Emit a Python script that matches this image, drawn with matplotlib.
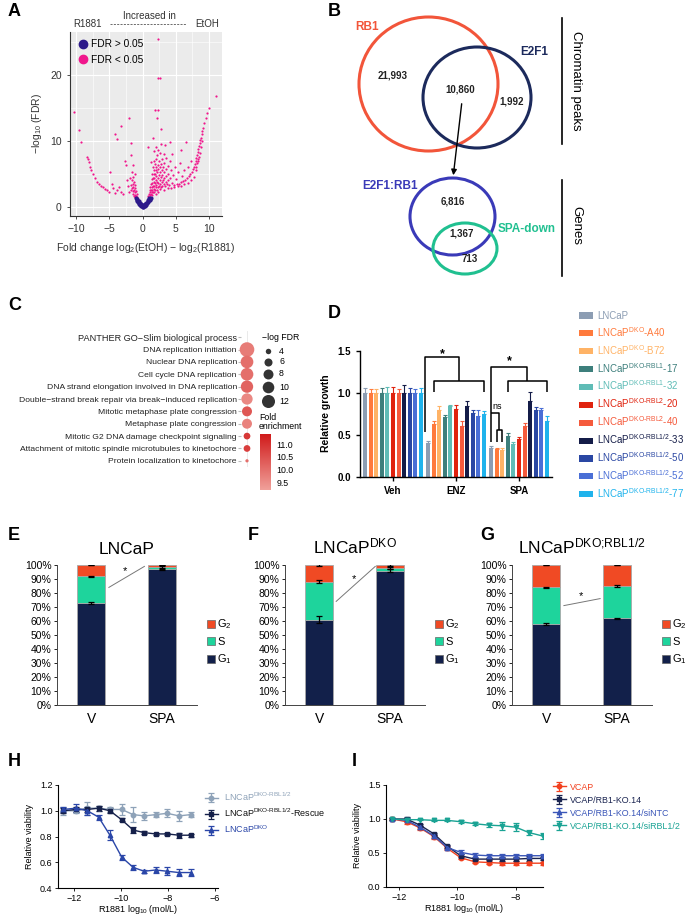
import numpy as np
import matplotlib
matplotlib.use('Agg')
import matplotlib.pyplot as plt
from matplotlib.patches import Ellipse, Patch
from matplotlib.lines import Line2D
from matplotlib.colors import LinearSegmentedColormap

plt.rcParams['font.family'] = ['Liberation Sans', 'DejaVu Sans']
plt.rcParams['mathtext.fontset'] = 'custom'
plt.rcParams['mathtext.rm'] = 'Liberation Sans'
plt.rcParams['mathtext.it'] = 'Liberation Sans:italic'
plt.rcParams['mathtext.bf'] = 'Liberation Sans:bold'

# ---------------- data ----------------
# A: volcano, (log2 fold change, -log10 FDR)
volcano_ns = [(-1.0, 1.3), (-0.9, 1.1), (-0.8, 0.9), (-0.7, 0.7), (-0.6, 0.55), (-0.5, 0.4),
              (-0.4, 0.3), (-0.3, 0.2), (-0.2, 0.1), (-0.1, 0.05), (0.0, 0.0), (0.1, 0.02),
              (0.2, 0.05), (0.3, 0.1), (0.4, 0.2), (0.5, 0.3), (0.6, 0.4), (0.7, 0.55),
              (0.8, 0.7), (0.9, 0.85), (1.0, 1.0), (1.1, 1.1), (1.2, 1.2), (1.3, 1.3),
              (-0.8, 1.2), (-0.5, 0.8), (-0.2, 0.4), (0.2, 0.3), (0.5, 0.6), (0.8, 1.0),
              (1.0, 1.3), (0.0, 0.2), (-0.4, 0.6), (0.4, 0.45)]
volcano_sig_left = [(-10.3, 14.3), (-9.5, 11.6), (-9.2, 9.8), (-8.3, 7.6), (-8.2, 7.2), (-8.1, 6.8),
                    (-7.9, 6.0), (-7.7, 5.5), (-7.5, 5.0), (-7.2, 4.4), (-6.9, 3.8), (-6.6, 3.5),
                    (-6.3, 3.2), (-6.0, 3.0), (-5.7, 2.7), (-5.4, 2.5), (-5.1, 2.3), (-4.9, 5.2),
                    (-4.6, 3.4), (-4.5, 2.8), (-4.2, 2.1), (-4.1, 11.0), (-3.9, 10.3), (-3.3, 12.3),
                    (-3.8, 2.5), (-3.5, 3.0), (-3.2, 2.2), (-2.9, 1.9), (-2.7, 7.0), (-2.5, 6.3),
                    (-2.4, 4.0), (-2.2, 3.2), (-2.0, 13.5), (-1.8, 9.6), (-1.7, 7.8), (-1.6, 5.2),
                    (-1.6, 4.0), (-1.5, 3.5), (-1.4, 3.0), (-1.3, 2.6), (-1.2, 2.2), (-1.1, 1.8),
                    (-1.5, 2.4), (-1.4, 2.0), (-1.3, 1.7), (-1.2, 1.5), (-1.6, 2.9), (-1.5, 4.5),
                    (-1.3, 3.8), (-1.2, 3.3), (-1.1, 2.8), (-1.0, 2.4), (-1.0, 1.6), (-0.9, 2.0),
                    (-0.8, 1.5), (-1.7, 3.3), (-1.8, 2.6), (-2.0, 2.3), (-1.9, 4.3), (-1.4, 6.3),
                    (-1.2, 5.0)]
volcano_sig_core = [(0.8, 1.2), (0.9, 1.6), (1.0, 2.0), (1.0, 1.4), (1.1, 2.5), (1.1, 1.8), (1.2, 3.0),
                    (1.2, 2.2), (1.2, 1.5), (1.3, 3.5), (1.3, 2.6), (1.3, 1.9), (1.4, 4.2), (1.4, 3.0),
                    (1.4, 2.2), (1.5, 5.0), (1.5, 3.6), (1.5, 2.6), (1.5, 1.8), (1.6, 6.0), (1.6, 4.3),
                    (1.6, 3.2), (1.6, 2.3), (1.7, 7.0), (1.7, 5.0), (1.7, 3.8), (1.7, 2.7), (1.8, 8.5),
                    (1.8, 5.6), (1.8, 4.4), (1.8, 3.1), (1.8, 2.2), (1.9, 6.5), (1.9, 5.0), (1.9, 3.6),
                    (1.9, 2.6), (2.0, 7.3), (2.0, 5.5), (2.0, 4.1), (2.0, 3.0), (2.0, 2.0), (2.1, 9.0),
                    (2.1, 6.0), (2.1, 4.6), (2.1, 3.3), (2.2, 7.8), (2.2, 5.2), (2.2, 3.8), (2.2, 2.6),
                    (2.3, 8.6), (2.3, 6.4), (2.3, 4.3), (2.3, 3.0), (2.4, 5.7), (2.4, 3.6), (2.4, 2.3),
                    (2.5, 7.0), (2.5, 4.8), (2.5, 3.2), (2.6, 6.0), (2.6, 4.0), (2.6, 2.7), (2.7, 8.2),
                    (2.7, 5.3), (2.7, 3.5), (2.8, 9.5), (2.8, 6.5), (2.8, 4.5), (2.8, 3.0), (2.9, 5.5),
                    (2.9, 3.8), (3.0, 7.2), (3.0, 4.8), (3.0, 3.2), (3.1, 6.0), (3.1, 4.1), (3.2, 8.0),
                    (3.2, 5.2), (3.2, 3.5), (3.3, 6.6), (3.3, 4.4), (3.4, 3.1), (3.5, 5.7), (3.5, 3.8),
                    (3.6, 7.4), (3.6, 4.6), (3.7, 3.4), (3.8, 6.2), (3.8, 4.0), (3.9, 5.0), (4.0, 3.3),
                    (4.1, 7.0), (4.2, 4.4), (4.3, 5.6), (4.4, 3.6), (4.5, 8.0), (4.6, 4.8), (4.8, 3.3),
                    (4.9, 6.0), (5.0, 4.2), (5.2, 3.4), (5.3, 5.2), (5.5, 3.5), (5.6, 6.6), (5.8, 3.7),
                    (5.9, 4.6), (6.1, 3.9), (6.3, 5.5), (6.4, 4.0), (6.7, 4.3), (6.9, 6.0), (7.0, 4.7),
                    (7.2, 5.0), (7.3, 7.0), (7.5, 5.3)]
volcano_sig_curve = [(3.3, 2.6), (3.8, 2.8), (4.3, 2.9), (4.8, 3.0), (5.3, 3.1), (5.8, 3.2), (6.3, 3.4),
                     (6.8, 3.6), (7.3, 4.0), (7.7, 4.5), (7.6, 5.7), (7.8, 6.0), (7.9, 6.5), (8.0, 7.0),
                     (8.0, 5.5), (8.1, 6.0), (8.1, 7.4), (8.2, 7.9), (8.2, 6.6), (8.3, 8.3), (8.3, 7.0),
                     (8.4, 8.7), (8.4, 7.2), (8.5, 9.2), (8.5, 7.5), (8.6, 9.6), (8.6, 8.2), (8.7, 10.1),
                     (8.8, 10.5), (8.8, 9.0), (8.9, 11.0), (9.0, 11.5), (9.0, 10.0), (9.1, 12.0),
                     (9.3, 12.7), (9.5, 13.5), (9.7, 14.2), (10.0, 15.0), (11.0, 16.8)]
volcano_sig_outliers = [(2.3, 25.5), (2.3, 19.5), (2.7, 19.5), (1.9, 14.7), (2.4, 14.7), (2.8, 11.8),
                        (2.2, 13.4), (1.6, 10.5), (3.4, 9.3), (4.2, 9.8), (5.8, 8.6), (0.9, 9.0),
                        (1.3, 6.8), (6.6, 9.8)]

# B: Venn counts
peak_counts = ['21,993', '10,860', '1,992']
gene_counts = ['6,816', '1,367', '713']

# C: GO dot plot
go_terms = ['DNA replication initiation', 'Nuclear DNA replication', 'Cell cycle DNA replication',
            'DNA strand elongation involved in DNA replication',
            'Double\u2212strand break repair via break\u2212induced replication',
            'Mitotic metaphase plate congression', 'Metaphase plate congression',
            'Mitotic G2 DNA damage checkpoint signaling',
            'Attachment of mitotic spindle microtubules to kinetochore',
            'Protein localization to kinetochore']
go_logfdr = [14.5, 11.5, 11.5, 11.0, 9.6, 8.0, 8.0, 4.9, 4.9, 2.9]
go_fold = [9.8, 10.0, 10.0, 10.2, 9.6, 10.4, 9.7, 10.9, 10.8, 10.0]
size_legend = [4, 6, 8, 10, 12]

# D: relative growth
d_groups = ['Veh', 'ENZ', 'SPA']
d_lines = ['LNCaP', 'LNCaP$^{\\text{DKO}}$-A40', 'LNCaP$^{\\text{DKO}}$-B72',
           'LNCaP$^{\\text{DKO-RBL1}}$-17', 'LNCaP$^{\\text{DKO-RBL1}}$-32',
           'LNCaP$^{\\text{DKO-RBL2}}$-20', 'LNCaP$^{\\text{DKO-RBL2}}$-40',
           'LNCaP$^{\\text{DKO-RBL1/2}}$-33', 'LNCaP$^{\\text{DKO-RBL1/2}}$-50',
           'LNCaP$^{\\text{DKO-RBL1/2}}$-52', 'LNCaP$^{\\text{DKO-RBL1/2}}$-77']
d_colors = ['#8c9db3', '#ff7a3c', '#ffb366', '#3d7f7c', '#5fbcb6', '#e0230f', '#f55a3c',
            '#141c48', '#2a47a3', '#4a6fd6', '#1fb3ec']
d_veh = [1.0] * 11
d_veh_err = [0.06, 0.05, 0.04, 0.06, 0.07, 0.07, 0.05, 0.09, 0.06, 0.05, 0.06]
d_enz = [0.40, 0.63, 0.79, 0.71, 0.84, 0.81, 0.60, 0.84, 0.76, 0.73, 0.75]
d_enz_err = [0.03, 0.04, 0.05, 0.03, 0.01, 0.05, 0.07, 0.06, 0.04, 0.06, 0.03]
d_spa = [0.34, 0.33, 0.32, 0.49, 0.39, 0.45, 0.61, 0.90, 0.80, 0.80, 0.67]
d_spa_err = [0.03, 0.01, 0.02, 0.03, 0.03, 0.03, 0.03, 0.11, 0.03, 0.02, 0.06]

# E-G: cell cycle fractions (%)
cc_conditions = ['V', 'SPA']
e_g1, e_s, e_g2 = [73, 97], [19, 1.5], [8, 1.5]
f_g1, f_s, f_g2 = [61, 96], [27, 2], [12, 2]
g_g1, g_s, g_g2 = [58, 62], [26, 23], [16, 15]
e_err = [[0.6, 0.5, 0.3], [0.5, 0.5, 0.3]]
f_err = [[2.5, 1.0, 1.0], [1.0, 0.6, 0.5]]
g_err = [[0.8, 0.6, 0.3], [0.4, 0.6, 0.3]]

# H: viability vs R1881
h_x = [-12.46, -11.91, -11.43, -10.95, -10.47, -9.97, -9.48, -9.01, -8.52, -8.03, -7.53, -7.03]
h_rbl = [1.00, 1.00, 1.02, 1.02, 1.01, 1.01, 0.97, 0.96, 0.97, 0.98, 0.96, 0.97]
h_rbl_err = [0.03, 0.02, 0.05, 0.02, 0.02, 0.04, 0.06, 0.03, 0.02, 0.03, 0.04, 0.02]
h_rescue = [1.00, 1.01, 1.01, 1.02, 1.00, 0.93, 0.85, 0.83, 0.82, 0.82, 0.81, 0.81]
h_rescue_err = [0.02, 0.02, 0.02, 0.02, 0.02, 0.01, 0.02, 0.01, 0.01, 0.01, 0.02, 0.01]
h_dko = [1.01, 1.02, 1.00, 0.95, 0.81, 0.64, 0.56, 0.53, 0.54, 0.53, 0.52, 0.52]
h_dko_err = [0.02, 0.03, 0.03, 0.02, 0.04, 0.02, 0.02, 0.01, 0.02, 0.03, 0.03, 0.03]

# I: VCaP viability
i_x = [-12.22, -11.74, -11.28, -10.80, -10.35, -9.89, -9.40, -8.94, -8.48, -8.01, -7.56, -7.09]
i_vcap = [1.00, 0.96, 0.87, 0.74, 0.57, 0.43, 0.37, 0.36, 0.35, 0.35, 0.35, 0.35]
i_vcap_err = [0.01, 0.04, 0.03, 0.03, 0.03, 0.02, 0.02, 0.02, 0.02, 0.03, 0.02, 0.02]
i_ko = [1.00, 1.00, 0.91, 0.78, 0.60, 0.46, 0.41, 0.41, 0.41, 0.41, 0.42, 0.42]
i_ko_err = [0.02, 0.03, 0.02, 0.02, 0.02, 0.02, 0.02, 0.02, 0.03, 0.03, 0.04, 0.02]
i_ntc = [1.00, 0.98, 0.88, 0.75, 0.58, 0.51, 0.47, 0.46, 0.46, 0.46, 0.46, 0.46]
i_ntc_err = [0.01, 0.03, 0.02, 0.03, 0.02, 0.03, 0.03, 0.03, 0.03, 0.03, 0.03, 0.03]
i_si = [1.00, 0.99, 0.99, 0.98, 0.98, 0.96, 0.93, 0.91, 0.90, 0.88, 0.80, 0.75]
i_si_err = [0.01, 0.01, 0.01, 0.01, 0.01, 0.02, 0.02, 0.03, 0.06, 0.06, 0.04, 0.04]

# ---------------- layout helpers ----------------
W, H = 687, 917
fig = plt.figure(figsize=(W / 100, H / 100), dpi=100)


def px_axes(l, t, r, b):
    return fig.add_axes([l / W, 1 - b / H, (r - l) / W, (b - t) / H])


def px_text(x, y, s, **kw):
    kw.setdefault('ha', 'center')
    kw.setdefault('va', 'center')
    fig.text(x / W, 1 - y / H, s, **kw)


for letter, x, y in [('A', 8, 12), ('B', 328, 11), ('C', 8, 306), ('D', 328, 313),
                     ('E', 8, 535), ('F', 248, 535), ('G', 480, 535), ('H', 8, 762), ('I', 352, 762)]:
    px_text(x, y, letter, fontsize=13, fontweight='bold', ha='left')

# overlay in pixel coordinates for diagram parts
ov = fig.add_axes([0, 0, 1, 1], zorder=5)
ov.set_xlim(0, W)
ov.set_ylim(H, 0)
ov.axis('off')
ov.patch.set_alpha(0)

# ---------------- A ----------------
ax = px_axes(70, 32, 222, 216)
ax.set_facecolor('#ebebeb')
ns = np.array(volcano_ns)
sig = np.array(volcano_sig_left + volcano_sig_core + volcano_sig_curve + volcano_sig_outliers)
ax.scatter(sig[:, 0], sig[:, 1], s=2.5, color='#f0168c', lw=0, zorder=3)
ax.scatter(ns[:, 0], ns[:, 1], s=9, color='#2d1a8a', lw=0, zorder=4)
ax.set_xlim(-10.9, 11.95)
ax.set_ylim(-1.4, 26.5)
ax.set_xticks([-10, -5, 0, 5, 10])
ax.set_yticks([0, 10, 20])
ax.set_xticks([-7.5, -2.5, 2.5, 7.5], minor=True)
ax.set_yticks([5, 15, 25], minor=True)
ax.grid(which='major', color='white', lw=0.8)
ax.grid(which='minor', color='white', lw=0.4)
ax.set_axisbelow(True)
ax.tick_params(which='minor', length=0)
ax.tick_params(labelsize=7.5, colors='#333333', length=2.5, width=0.6)
for s in ['top', 'right']:
    ax.spines[s].set_visible(False)
for s in ['left', 'bottom']:
    ax.spines[s].set_color('#333333')
    ax.spines[s].set_linewidth(0.8)
ax.set_ylabel('\u2212log$_{10}$ (FDR)', fontsize=7.5, color='#333333', labelpad=4)
ax.set_xlabel('Fold change log$_2$(EtOH) \u2212 log$_2$(R1881)', fontsize=7.5, color='#333333', labelpad=5)
leg = ax.legend(handles=[Line2D([], [], ls='', marker='o', ms=6, color='#2d1a8a', label='FDR > 0.05'),
                         Line2D([], [], ls='', marker='o', ms=6, color='#f0168c', label='FDR < 0.05')],
                loc='upper left', frameon=False, fontsize=7.3, handletextpad=0.2,
                borderaxespad=0.3, labelspacing=0.55, handlelength=1.2)
px_text(149, 16, 'Increased in', fontsize=7, color='#333333')
px_text(87, 24, 'R1881', fontsize=7, color='#333333')
px_text(207, 24, 'EtOH', fontsize=7, color='#333333')
ov.plot([110, 186], [24, 24], color='#555555', lw=0.6, ls=(0, (2.5, 1.5)))

# ---------------- B ----------------
venn = [((428.5, 84), 139, 134, '#f2553a'), ((477, 97.5), 108, 101, '#1c2a5c'),
        ((452.5, 216.5), 85, 77, '#3a3ab8'), ((465, 248.5), 64, 51, '#20c090')]
for c, w, h, col in venn:
    ov.add_patch(Ellipse(c, w, h, fill=False, ec=col, lw=2.2))
ov.text(367, 27, 'RB1', color='#f2553a', fontsize=8.5, fontweight='bold', ha='center', va='center')
ov.text(534, 52, 'E2F1', color='#1c2a5c', fontsize=8.5, fontweight='bold', ha='center', va='center')
for (x, y), t in zip([(393, 75), (460, 90), (512, 102)], peak_counts):
    ov.text(x, y, t, fontsize=7, fontweight='bold', color='#222222', ha='center', va='center')
for (x, y), t in zip([(453, 201), (462, 233), (470, 259)], gene_counts):
    ov.text(x, y, t, fontsize=7, fontweight='bold', color='#222222', ha='center', va='center')
ov.text(390, 186, 'E2F1:RB1', color='#3a3ab8', fontsize=8.5, fontweight='bold', ha='center', va='center')
ov.text(527, 229, 'SPA-down', color='#20c090', fontsize=8.5, fontweight='bold', ha='center', va='center')
ov.annotate('', xy=(453, 178), xytext=(462, 101),
            arrowprops=dict(arrowstyle='-|>', color='black', lw=1, mutation_scale=8))
ov.plot([562, 562], [18, 144], color='black', lw=1.2)
ov.plot([562, 562], [180, 276], color='black', lw=1.2)
ov.text(576, 81, 'Chromatin peaks', rotation=-90, fontsize=9.5, ha='center', va='center')
ov.text(576, 225, 'Genes', rotation=-90, fontsize=9.5, ha='center', va='center')

# ---------------- C ----------------
cmap = LinearSegmentedColormap.from_list('fold', ['#f0a09a', '#d01a1a'])


def dot_size(v):
    return 9.07 * (np.asarray(v, dtype=float) - 2.3)


axc = px_axes(241, 331, 253, 467)
rows = np.arange(1, len(go_terms) + 1)
axc.axvline(0, color='#e6e6e6', lw=0.6, zorder=0)
sc = axc.scatter(np.zeros(len(rows)), rows, s=dot_size(go_logfdr), c=go_fold, cmap=cmap,
                 vmin=9.2, vmax=11.4, lw=0, zorder=3, clip_on=False)
axc.set_xlim(-1, 1)
axc.set_ylim(len(go_terms) + 0.5, -0.5)
axc.set_yticks(np.arange(0, len(go_terms) + 1))
axc.set_yticklabels(['PANTHER GO\u2212Slim biological process'] + go_terms, fontsize=6.1, color='#222222')
axc.get_yticklabels()[0].set_fontsize(6.6)
axc.set_xticks([])
axc.tick_params(axis='y', length=2, color='#bbbbbb', pad=1)
for s in axc.spines.values():
    s.set_visible(False)
ov.text(262, 338, '\u2212log FDR', fontsize=6.3, ha='left', va='center')
for v, y in zip(size_legend, [351, 362, 374, 387, 401]):
    ov.scatter(268, y, s=dot_size(v), color='#333333', lw=0)
    ov.text(279, y, str(v), fontsize=6.3, ha='left', va='center')
ov.text(259, 422, 'Fold\nenrichment', fontsize=6.3, ha='left', va='center', linespacing=1.0)
cax = px_axes(260, 434, 271, 490)
cb = fig.colorbar(sc, cax=cax, ticks=[9.5, 10.0, 10.5, 11.0])
cb.outline.set_visible(False)
cax.tick_params(labelsize=6.3, length=2, color='white', pad=2)

# ---------------- D ----------------
axd = px_axes(360, 349, 552, 477)
bw = 0.089
bars = []
for i in range(11):
    xs = np.arange(3) + (i - 5) * bw
    vals = [d_veh[i], d_enz[i], d_spa[i]]
    errs = [d_veh_err[i], d_enz_err[i], d_spa_err[i]]
    b = axd.bar(xs, vals, width=0.062, color=d_colors[i], lw=0, label=d_lines[i])
    axd.errorbar(xs, vals, yerr=[np.zeros(3), errs], fmt='none', ecolor=d_colors[i],
                 elinewidth=0.8, capsize=1.2, capthick=0.8)
    bars.append(b)
axd.set_xlim(-0.524, 2.524)
axd.set_ylim(0, 1.52)
axd.set_yticks([0, 0.5, 1.0, 1.5])
axd.set_yticklabels(['0.0', '0.5', '1.0', '1.5'], fontweight='bold')
axd.set_xticks(range(3))
axd.set_xticklabels(d_groups, fontweight='bold')
axd.tick_params(labelsize=7, width=1, length=3)
axd.spines['left'].set_bounds(0, 1.5)
for s in ['top', 'right']:
    axd.spines[s].set_visible(False)
for s in ['left', 'bottom']:
    axd.spines[s].set_linewidth(1)
axd.set_ylabel('Relative growth', fontsize=7.5, fontweight='bold', labelpad=5)


def bx(g, i):
    return g + (i - 5) * bw


kw = dict(color='black', lw=1.1, clip_on=False, solid_capstyle='butt')
# ENZ bracket
x0 = bx(1, 0) - 0.045
xm = (bx(1, 1) + bx(1, 10)) / 2
axd.plot([x0, x0, xm, xm], [0.54, 1.42, 1.42, 1.14], **kw)
axd.plot([bx(1, 1), bx(1, 1), bx(1, 10), bx(1, 10)], [1.01, 1.14, 1.14, 1.01], **kw)
axd.text((x0 + xm) / 2, 1.46, '*', fontsize=9, fontweight='bold', ha='center', va='center')
# SPA bracket
x0 = bx(2, 0)
xm = (bx(2, 3) + bx(2, 10)) / 2
axd.plot([x0, x0, xm, xm], [0.42, 1.31, 1.31, 1.14], **kw)
axd.plot([bx(2, 3), bx(2, 3), bx(2, 10), bx(2, 10)], [1.01, 1.14, 1.14, 1.01], **kw)
axd.text((x0 + xm) / 2, 1.37, '*', fontsize=9, fontweight='bold', ha='center', va='center')
xn = (bx(2, 1) + bx(2, 2)) / 2
axd.plot([x0, xn, xn], [0.76, 0.76, 0.56], **kw)
axd.plot([bx(2, 1), bx(2, 1), bx(2, 2), bx(2, 2)], [0.42, 0.56, 0.56, 0.42], **kw)
axd.text(x0 + 0.02, 0.84, 'ns', fontsize=6.5, ha='left', va='center')

legd = axd.legend(handles=bars, labels=d_lines, loc='upper left', bbox_to_anchor=(575 / W, 1 - 307 / H),
                  bbox_transform=fig.transFigure, frameon=False, fontsize=7, handlelength=1.4,
                  handleheight=0.6, handletextpad=0.45, labelspacing=0.42, borderaxespad=0)
for t, c in zip(legd.get_texts(), d_colors):
    t.set_color(c)

# ---------------- E, F, G ----------------
cc_colors = {'G2': '#f04a24', 'S': '#1ed49c', 'G1': '#12204a'}


def cycle_panel(l, title, g1, s, g2, err, line, star):
    axp = px_axes(l, 565, l + 140, 705)
    x = np.arange(2)
    g1 = np.array(g1, float)
    s = np.array(s, float)
    g2 = np.array(g2, float)
    ek = dict(width=0.4, edgecolor='#a8a8a8', lw=0.6)
    axp.bar(x, g1, color=cc_colors['G1'], **ek)
    axp.bar(x, s, bottom=g1, color=cc_colors['S'], **ek)
    axp.bar(x, g2, bottom=g1 + s, color=cc_colors['G2'], **ek)
    tops = [g1, g1 + s, g1 + s + g2]
    for k in range(3):
        axp.errorbar(x, tops[k], yerr=[err[0][k], err[1][k]], fmt='none', ecolor='black',
                     elinewidth=0.9, capsize=2, capthick=0.9)
    axp.plot(line[0], line[1], color='#777777', lw=0.7)
    axp.text(star[0], star[1], '*', fontsize=8, ha='center', va='center')
    axp.set_xlim(-0.48, 1.49)
    axp.set_ylim(0, 100)
    axp.set_yticks(range(0, 101, 10))
    axp.set_yticklabels(['%d%%' % v for v in range(0, 101, 10)])
    axp.set_xticks(x)
    axp.set_xticklabels(cc_conditions)
    axp.tick_params(axis='y', labelsize=7.5, length=2.5, width=0.6, pad=1.5)
    axp.tick_params(axis='x', labelsize=10, length=0, pad=5)
    for sp in ['top', 'right']:
        axp.spines[sp].set_visible(False)
    for sp in ['left', 'bottom']:
        axp.spines[sp].set_linewidth(0.7)
        axp.spines[sp].set_color('#444444')
    axp.set_title(title, fontsize=12.5, pad=8)
    handles = [Patch(fc=cc_colors['G2'], ec='#666666', lw=0.5, label='G$_2$'),
               Patch(fc=cc_colors['S'], ec='#666666', lw=0.5, label='S'),
               Patch(fc=cc_colors['G1'], ec='#666666', lw=0.5, label='G$_1$')]
    axp.legend(handles=handles, loc='center left', bbox_to_anchor=(1.04, 0.45), frameon=False,
               fontsize=8, handlelength=0.7, handleheight=0.75, handletextpad=0.2, labelspacing=0.5,
               borderaxespad=0)
    return axp


cycle_panel(57, 'LNCaP', e_g1, e_s, e_g2, e_err, ([0.25, 0.75], [84, 99]), (0.48, 96))
cycle_panel(285, 'LNCaP$^{\\text{DKO}}$', f_g1, f_s, f_g2, f_err, ([0.24, 0.79], [74, 99]), (0.49, 90))
cycle_panel(512, 'LNCaP$^{\\text{DKO;RBL1/2}}$', g_g1, g_s, g_g2, g_err, ([0.25, 0.76], [71, 76]), (0.49, 78))

# ---------------- H ----------------
axh = px_axes(58, 785, 218, 888)
hser = [(h_rbl, h_rbl_err, '#8ea2b8', 'o', 'LNCaP$^{\\text{DKO-RBL1/2}}$'),
        (h_rescue, h_rescue_err, '#15204a', 's', 'LNCaP$^{\\text{DKO-RBL1/2}}$-Rescue'),
        (h_dko, h_dko_err, '#2a46a8', '^', 'LNCaP$^{\\text{DKO}}$')]
hh = []
for y, e, c, m, lab in hser:
    hh.append(axh.errorbar(h_x, y, yerr=e, color=c, marker=m, ms=3.2, lw=1, elinewidth=0.9,
                           capsize=2, capthick=0.9, label=lab))
axh.set_xlim(-12.68, -5.87)
axh.set_ylim(0.4, 1.2)
axh.set_xticks([-12, -10, -8, -6])
axh.set_yticks([0.4, 0.6, 0.8, 1.0, 1.2])
axh.tick_params(labelsize=6.5, length=2.5, width=0.6, pad=1.5)
for sp in ['top', 'right']:
    axh.spines[sp].set_visible(False)
axh.set_ylabel('Relative viability', fontsize=6.5)
axh.set_xlabel('R1881 log$_{10}$ (mol/L)', fontsize=6.5, labelpad=0.5)
lh = axh.legend(handles=hh, loc='upper left', bbox_to_anchor=(201 / W, 1 - 787 / H),
                bbox_transform=fig.transFigure, frameon=False, fontsize=6.5, handlelength=1.5,
                handletextpad=0.6, labelspacing=0.45, borderaxespad=0)
for t, s in zip(lh.get_texts(), hser):
    t.set_color(s[2] if s[2] != '#15204a' else '#111111')

# ---------------- I ----------------
axi = px_axes(386, 785, 543, 887)
iser = [(i_vcap, i_vcap_err, '#f2401e', 'o', 'VCAP'),
        (i_ko, i_ko_err, '#1a2450', 's', 'VCAP/RB1-KO.14'),
        (i_ntc, i_ntc_err, '#3a56b8', '^', 'VCAP/RB1-KO.14/siNTC'),
        (i_si, i_si_err, '#1aa394', 'v', 'VCAP/RB1-KO.14/siRBL1/2')]
ih = []
for y, e, c, m, lab in iser:
    ih.append(axi.errorbar(i_x, y, yerr=e, color=c, marker=m, ms=3.2, lw=1, elinewidth=0.9,
                           capsize=2, capthick=0.9, label=lab))
axi.set_xlim(-12.44, -7.08)
axi.set_ylim(0, 1.5)
axi.set_xticks([-12, -10, -8])
axi.set_yticks([0, 0.5, 1.0, 1.5])
axi.tick_params(labelsize=6.5, length=2.5, width=0.6, pad=1.5)
for sp in ['top', 'right']:
    axi.spines[sp].set_visible(False)
axi.set_ylabel('Relative viability', fontsize=6.5)
axi.set_xlabel('R1881 log$_{10}$ (mol/L)', fontsize=6.5, labelpad=0.5)
li = axi.legend(handles=ih, loc='upper left', bbox_to_anchor=(549 / W, 1 - 779 / H),
                bbox_transform=fig.transFigure, frameon=False, fontsize=6.4, handlelength=1.5,
                handletextpad=0.5, labelspacing=0.45, borderaxespad=0)
for t, s in zip(li.get_texts(), iser):
    t.set_color(s[2])

fig.savefig('out.png', dpi=100)
